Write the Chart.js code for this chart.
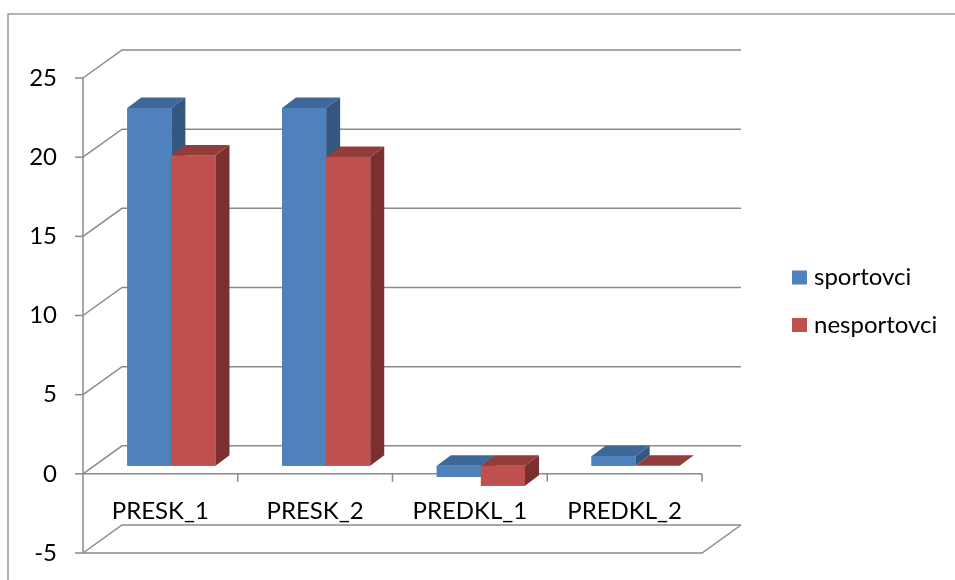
<!DOCTYPE html>
<html>
<head>
<meta charset="utf-8">
<title>sportovci / nesportovci</title>
<script src="https://cdn.jsdelivr.net/npm/chart.js@4/dist/chart.umd.min.js"></script>
<style>
  html, body { margin: 0; padding: 0; background: #ffffff; }
  #wrap { width: 955px; height: 580px; }
</style>
</head>
<body>
<div id="wrap"><canvas id="c" width="955" height="580"></canvas></div>
<script>
// Categories and series values
const categories = ['PRESK_1', 'PRESK_2', 'PREDKL_1', 'PREDKL_2'];
const sportovci = [22.6, 22.6, -0.7, 0.6];
const nesportovci = [19.6, 19.5, -1.25, 0.0];
const seriesNames = ['sportovci', 'nesportovci'];
const yMin = -5;
const yMax = 25;
const yStep = 5;

// Styling
const FONT = 'Lato, "Open Sans", "DejaVu Sans", sans-serif';
const FONT_SIZE = 24;
const GRID = '#8a8a8a';
const FRONT = { dx: -11, dy: 8 };    // floor front edge relative to bar plane
const BACK = { dx: 28, dy: -20 };    // back wall relative to bar plane
const DEPTH = { dx: 14, dy: -10.5 }; // bar extrusion
const faces = [
  { front: '#4F81BD', top: '#3E6899', side: '#34577F' },
  { front: '#C0504D', top: '#923D3A', side: '#7A302E' }
];

function line(ctx, pts) {
  ctx.beginPath();
  ctx.moveTo(pts[0][0], pts[0][1]);
  for (let i = 1; i < pts.length; i++) ctx.lineTo(pts[i][0], pts[i][1]);
  ctx.stroke();
}
function poly(ctx, pts, fill) {
  ctx.beginPath();
  ctx.moveTo(pts[0][0], pts[0][1]);
  for (let i = 1; i < pts.length; i++) ctx.lineTo(pts[i][0], pts[i][1]);
  ctx.closePath();
  ctx.fillStyle = fill;
  ctx.fill();
}

// Outer frame, walls, floor and gridlines in perspective
const frame3d = {
  id: 'frame3d',
  beforeDatasetsDraw(chart) {
    const { ctx, chartArea: a } = chart;
    const ys = chart.scales.y;
    ctx.save();
    // chart border
    ctx.strokeStyle = '#9a9a9a';
    ctx.lineWidth = 1.5;
    line(ctx, [[8, 580], [8, 14], [955, 14]]);

    ctx.strokeStyle = GRID;
    ctx.lineWidth = 1.5;
    const L = a.left, R = a.right;
    ys.ticks.forEach(t => {
      const y = ys.getPixelForValue(t.value);
      line(ctx, [[L + FRONT.dx, y + FRONT.dy], [L + BACK.dx, y + BACK.dy], [R + BACK.dx, y + BACK.dy]]);
      line(ctx, [[L + FRONT.dx - 8, y + FRONT.dy], [L + FRONT.dx, y + FRONT.dy]]);
    });
    // front vertical axis
    line(ctx, [[L + FRONT.dx, ys.getPixelForValue(yMax) + FRONT.dy], [L + FRONT.dx, ys.getPixelForValue(yMin) + FRONT.dy]]);
    // floor at the bottom value
    const yb = ys.getPixelForValue(yMin);
    line(ctx, [[L + FRONT.dx, yb + FRONT.dy], [R + FRONT.dx, yb + FRONT.dy], [R + BACK.dx, yb + BACK.dy]]);
    // category axis at zero with boundary ticks
    const y0 = ys.getPixelForValue(0) + FRONT.dy;
    line(ctx, [[L + FRONT.dx, y0], [R + FRONT.dx, y0]]);
    const n = categories.length;
    const step = (R - L) / n;
    for (let i = 1; i <= n; i++) {
      const x = L + step * i + FRONT.dx;
      line(ctx, [[x, y0], [x, y0 + 8]]);
    }
    ctx.restore();
  },
  afterDatasetsDraw(chart) {
    const { ctx } = chart;
    ctx.save();
    const n = categories.length;
    for (let i = 0; i < n; i++) {
      chart.data.datasets.forEach((ds, di) => {
        const bar = chart.getDatasetMeta(di).data[i];
        const p = bar.getProps(['x', 'y', 'base', 'width']);
        const left = p.x - p.width / 2, right = p.x + p.width / 2;
        const top = Math.min(p.y, p.base), bottom = Math.max(p.y, p.base);
        const f = faces[di];
        poly(ctx, [[right, top], [right + DEPTH.dx, top + DEPTH.dy], [right + DEPTH.dx, bottom + DEPTH.dy], [right, bottom]], f.side);
        poly(ctx, [[left, top], [left + DEPTH.dx, top + DEPTH.dy], [right + DEPTH.dx, top + DEPTH.dy], [right, top]], f.top);
        bar.draw(ctx, chart.chartArea);
      });
    }
    ctx.restore();
  },
  afterDraw(chart) {
    const { ctx } = chart;
    ctx.save();
    ctx.font = FONT_SIZE + 'px ' + FONT;
    ctx.textBaseline = 'middle';
    ctx.textAlign = 'left';
    chart.data.datasets.forEach((ds, di) => {
      const cy = 277.5 + di * 47.5;
      ctx.fillStyle = ds.backgroundColor;
      ctx.fillRect(792, cy - 7, 15, 14);
      ctx.fillStyle = '#000000';
      ctx.fillText(ds.label, 814, cy);
    });
    ctx.restore();
  }
};

new Chart(document.getElementById('c'), {
  type: 'bar',
  data: {
    labels: categories,
    datasets: [
      { label: seriesNames[0], data: sportovci, backgroundColor: faces[0].front, borderWidth: 0 },
      { label: seriesNames[1], data: nesportovci, backgroundColor: faces[1].front, borderWidth: 0 }
    ]
  },
  options: {
    responsive: false,
    animation: false,
    events: [],
    layout: { padding: { left: 0, top: 70, right: 242, bottom: 0 } },
    datasets: { bar: { barPercentage: 1.0, categoryPercentage: 0.57 } },
    plugins: { legend: { display: false }, tooltip: { enabled: false } },
    scales: {
      x: {
        grid: { display: false, drawTicks: false },
        border: { display: false },
        ticks: {
          color: '#000000',
          font: { family: FONT, size: FONT_SIZE },
          mirror: true,
          padding: 19,
          labelOffset: FRONT.dx,
          maxRotation: 0
        },
        afterFit(s) { s.height = 35; s.paddingLeft = 0; s.paddingRight = 0; }
      },
      y: {
        min: yMin,
        max: yMax,
        grid: { display: false, drawTicks: false },
        border: { display: false },
        ticks: {
          stepSize: yStep,
          color: '#000000',
          font: { family: FONT, size: FONT_SIZE },
          padding: 37,
          labelOffset: FRONT.dy
        },
        afterFit(s) { s.width = 94; s.paddingTop = 0; s.paddingBottom = 0; }
      }
    }
  },
  plugins: [frame3d]
});
</script>
</body>
</html>
